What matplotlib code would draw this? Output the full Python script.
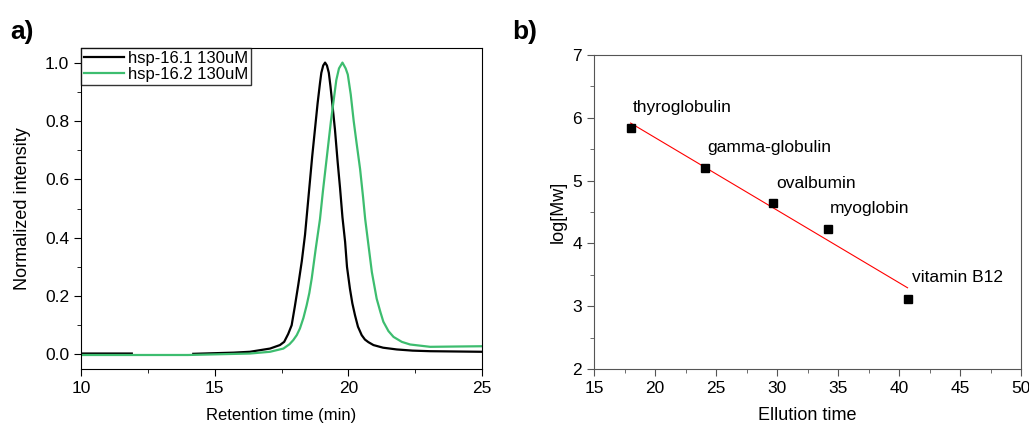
import numpy as np
import matplotlib
matplotlib.use("Agg")
import matplotlib.pyplot as plt
from matplotlib.ticker import MultipleLocator

plt.rcParams["font.family"] = ["Liberation Sans", "DejaVu Sans"]

# panel a: SEC traces (nan = gap in the black trace)
T_BLACK = [10.0, 11.9, np.nan, 14.2, 15.7, 16.32, 17.07, 17.44, 17.6, 17.75, 17.88, 18.0,
           18.13, 18.26, 18.38, 18.47, 18.56, 18.65, 18.75, 18.85, 18.94, 18.99, 19.06,
           19.13, 19.2, 19.27, 19.33, 19.4, 19.5, 19.6, 19.69, 19.78, 19.88, 19.95,
           20.06, 20.15, 20.25, 20.36, 20.5, 20.62, 20.75, 20.94, 21.3, 21.81, 22.4,
           23.06, 25.0]
I_BLACK = [0.003, 0.003, np.nan, 0.002, 0.006, 0.009, 0.02, 0.032, 0.043, 0.07, 0.1, 0.165,
           0.24, 0.32, 0.41, 0.50, 0.59, 0.68, 0.77, 0.86, 0.93, 0.965, 0.99,
           1.0, 0.99, 0.965, 0.92, 0.86, 0.77, 0.66, 0.57, 0.47, 0.385, 0.30,
           0.225, 0.175, 0.134, 0.095, 0.066, 0.051, 0.042, 0.032, 0.023, 0.017, 0.013,
           0.011, 0.009]
T_GREEN = [10.0, 14.0, 16.32, 17.07, 17.57, 17.8, 17.94, 18.07, 18.19, 18.32, 18.44, 18.54,
           18.63, 18.78, 18.94, 19.05, 19.15, 19.25, 19.35, 19.45, 19.55, 19.65, 19.78,
           19.9, 19.98, 20.09, 20.2, 20.3, 20.44, 20.55, 20.63, 20.77, 20.88, 21.06,
           21.2, 21.31, 21.5, 21.69, 22.0, 22.31, 23.06, 24.0, 25.0]
I_GREEN = [-0.002, -0.002, 0.003, 0.009, 0.02, 0.035, 0.049, 0.066, 0.089, 0.125, 0.168,
           0.21, 0.26, 0.362, 0.464, 0.56, 0.64, 0.72, 0.80, 0.87, 0.94, 0.98, 1.0,
           0.98, 0.959, 0.891, 0.80, 0.73, 0.635, 0.54, 0.464, 0.362, 0.282, 0.191,
           0.145, 0.112, 0.08, 0.06, 0.043, 0.034, 0.026, 0.027, 0.028]
LABELS_A = ["hsp-16.1 130uM", "hsp-16.2 130uM"]

# panel b: calibration standards
ELUTION = [18.0, 24.1, 29.7, 34.2, 40.7]
LOG_MW = [5.83, 5.2, 4.65, 4.23, 3.12]
PROTEINS = ["thyroglobulin", "gamma-globulin", "ovalbumin", "myoglobin", "vitamin B12"]
LABEL_XY = [(18.2, 6.17), (24.26, 5.52), (29.9, 4.96), (34.35, 4.55), (41.07, 3.46)]

GREEN = "#3dbd6f"

fig = plt.figure(figsize=(10.29, 4.23), dpi=100)
ax_a = fig.add_axes([81 / 1029, 1 - 369 / 423, 401 / 1029, 321 / 423])
ax_b = fig.add_axes([594 / 1029, 1 - 369 / 423, 427 / 1029, 314 / 423])

# --- a) ---
ax_a.plot(T_BLACK, I_BLACK, color="black", lw=1.6, label=LABELS_A[0])
ax_a.plot(T_GREEN, I_GREEN, color=GREEN, lw=1.6, label=LABELS_A[1])
ax_a.set_xlim(10, 25)
ax_a.set_ylim(-0.05, 1.05)
ax_a.xaxis.set_major_locator(MultipleLocator(5))
ax_a.xaxis.set_minor_locator(MultipleLocator(2.5))
ax_a.yaxis.set_major_locator(MultipleLocator(0.2))
ax_a.yaxis.set_minor_locator(MultipleLocator(0.1))
ax_a.yaxis.set_major_formatter(lambda v, p: f"{v:.1f}")
ax_a.tick_params(which="both", direction="out", labelsize=12.5)
ax_a.tick_params(which="major", length=5)
ax_a.tick_params(which="minor", length=3)
ax_a.set_xlabel("Retention time (min)", fontsize=12, labelpad=9)
ax_a.set_ylabel("Normalized intensity", fontsize=13, labelpad=10)
leg = ax_a.legend(loc="upper left", fontsize=12, frameon=True, fancybox=False,
                  edgecolor="black", borderaxespad=0, borderpad=0.15,
                  handlelength=2.4, handletextpad=0.3, labelspacing=0.1)
leg.get_frame().set_linewidth(1.0)
fig.text(10 / 1029, 1 - 32 / 423, "a)", fontsize=19, fontweight="bold", va="center")

# --- b) ---
fit = np.polyfit(ELUTION, LOG_MW, 1)
xs = np.array([min(ELUTION), max(ELUTION)])
ax_b.plot(xs, np.polyval(fit, xs), color="red", lw=0.8)
ax_b.plot(ELUTION, LOG_MW, "s", color="black", ms=6)
for name, (x, y) in zip(PROTEINS, LABEL_XY):
    ax_b.text(x, y, name, fontsize=12.5, va="center", ha="left")
ax_b.set_xlim(15, 50)
ax_b.set_ylim(2, 7)
ax_b.xaxis.set_major_locator(MultipleLocator(5))
ax_b.xaxis.set_minor_locator(MultipleLocator(2.5))
ax_b.yaxis.set_major_locator(MultipleLocator(1))
ax_b.yaxis.set_minor_locator(MultipleLocator(0.5))
for s in ax_b.spines.values():
    s.set_color("#555555")
ax_b.tick_params(which="both", direction="out", labelsize=12.5, color="#555555")
ax_b.tick_params(which="major", length=5)
ax_b.tick_params(which="minor", length=3)
ax_b.set_xlabel("Ellution time", fontsize=13, labelpad=8)
ax_b.set_ylabel("log[Mw]", fontsize=13)
fig.text(512 / 1029, 1 - 32 / 423, "b)", fontsize=19, fontweight="bold", va="center")

fig.savefig("out.png", dpi=100)
